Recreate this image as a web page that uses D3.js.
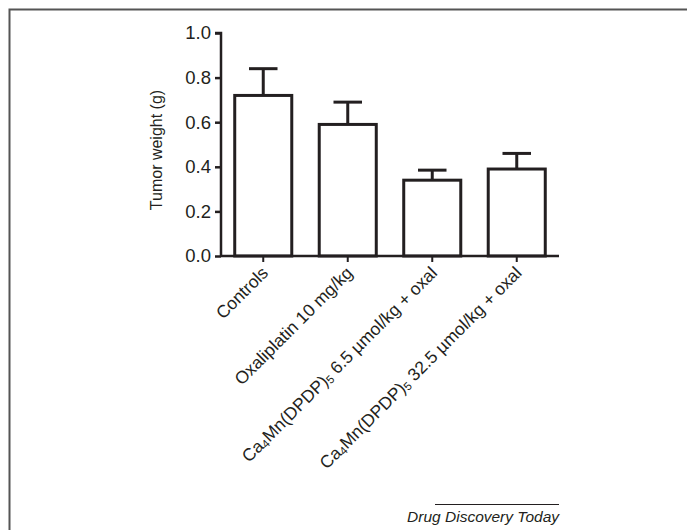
<!DOCTYPE html>
<html><head><meta charset="utf-8">
<script src="https://cdn.jsdelivr.net/npm/d3@7"></script>
<style>body{margin:0;background:#fff}svg{display:block;font-family:"Liberation Sans",Arial,Helvetica,sans-serif}</style>
</head><body>
<script>
const categories = ["Controls", "Oxaliplatin 10 mg/kg", "Ca4Mn(DPDP)5 6.5 µmol/kg + oxal", "Ca4Mn(DPDP)5 32.5 µmol/kg + oxal"];
const labelParts = [
  [["Controls", false]],
  [["Oxaliplatin 10 mg/kg", false]],
  [["Ca", false], ["4", true], ["Mn(DPDP)", false], ["5", true], [" 6.5 µmol/kg + oxal", false]],
  [["Ca", false], ["4", true], ["Mn(DPDP)", false], ["5", true], [" 32.5 µmol/kg + oxal", false]]
];
const means = [0.72, 0.59, 0.34, 0.39];
const sems = [0.12, 0.10, 0.045, 0.07];
const yTicks = [0.0, 0.2, 0.4, 0.6, 0.8, 1.0];

const W = 687, H = 530;
const svg = d3.select("body").append("svg").attr("width", W).attr("height", H);

// frame (top and left only)
svg.append("path").attr("d", "M9.5,530 L9.5,9.5 L687,9.5").attr("fill", "none").attr("stroke", "#555").attr("stroke-width", 2);

const x0 = 221, x1 = 559, yTop = 33, yBot = 256;
const x = d3.scaleBand().domain(categories).range([x0, x1]).paddingInner(0.325).paddingOuter(0.1625);
const y = d3.scaleLinear().domain([0, 1]).range([yBot, yTop]);

const col = "#231f20";

// bars
const g = svg.append("g");
categories.forEach((c, i) => {
  const bx = x(c), bw = x.bandwidth(), cx = bx + bw / 2;
  g.append("line").attr("x1", cx).attr("x2", cx).attr("y1", y(means[i])).attr("y2", y(means[i] + sems[i]))
    .attr("stroke", col).attr("stroke-width", 3);
  g.append("line").attr("x1", cx - bw / 4).attr("x2", cx + bw / 4).attr("y1", y(means[i] + sems[i])).attr("y2", y(means[i] + sems[i]))
    .attr("stroke", col).attr("stroke-width", 3);
  g.append("rect").attr("x", bx).attr("y", y(means[i])).attr("width", bw).attr("height", y(0) - y(means[i]))
    .attr("fill", "#fff").attr("stroke", col).attr("stroke-width", 3);
});

// y axis
const yAxis = d3.axisLeft(y).tickValues(yTicks).tickFormat(d3.format(".1f")).tickSize(6).tickPadding(4);
const ya = svg.append("g").attr("transform", `translate(${x0},0)`).call(yAxis);
ya.select(".domain").attr("stroke", col).attr("stroke-width", 2.5).attr("d", `M-6,${yTop}H0V${yBot}`);
ya.selectAll(".tick line").attr("stroke", col).attr("stroke-width", 2.5);
ya.selectAll(".tick text").attr("font-size", 18.5).attr("fill", col).attr("font-family", "Liberation Sans, Arial, sans-serif");

// x axis
const xAxis = d3.axisBottom(x).tickSize(6).tickFormat("");
const xa = svg.append("g").attr("transform", `translate(0,${yBot})`).call(xAxis);
xa.select(".domain").attr("stroke", col).attr("stroke-width", 2.5).attr("d", `M${x0},0H${x1}`);
xa.selectAll(".tick line").attr("stroke", col).attr("stroke-width", 2);

// x labels rotated
categories.forEach((c, i) => {
  const cx = x(c) + x.bandwidth() / 2;
  const t = svg.append("text")
    .attr("transform", `translate(${cx + 6},${yBot + 18}) rotate(-45)`)
    .attr("text-anchor", "end").attr("font-size", 17.5).attr("fill", col);
  let prevSub = false;
  labelParts[i].forEach(([s, sub]) => {
    const ts = t.append("tspan").text(s);
    if (sub) ts.attr("font-size", 11.5).attr("dy", 2);
    else if (prevSub) ts.attr("dy", -2);
    prevSub = sub;
  });
});

// y axis label
svg.append("text").attr("transform", `translate(162,150) rotate(-90)`)
  .attr("text-anchor", "middle").attr("font-size", 16).attr("fill", col).text("Tumor weight (g)");

// footer
svg.append("line").attr("x1", 435).attr("x2", 559).attr("y1", 504.5).attr("y2", 504.5).attr("stroke", col).attr("stroke-width", 1);
svg.append("text").attr("x", 559).attr("y", 522).attr("text-anchor", "end").attr("font-size", 15.5)
  .attr("font-style", "italic").attr("fill", col).text("Drug Discovery Today");
</script>
</body></html>
